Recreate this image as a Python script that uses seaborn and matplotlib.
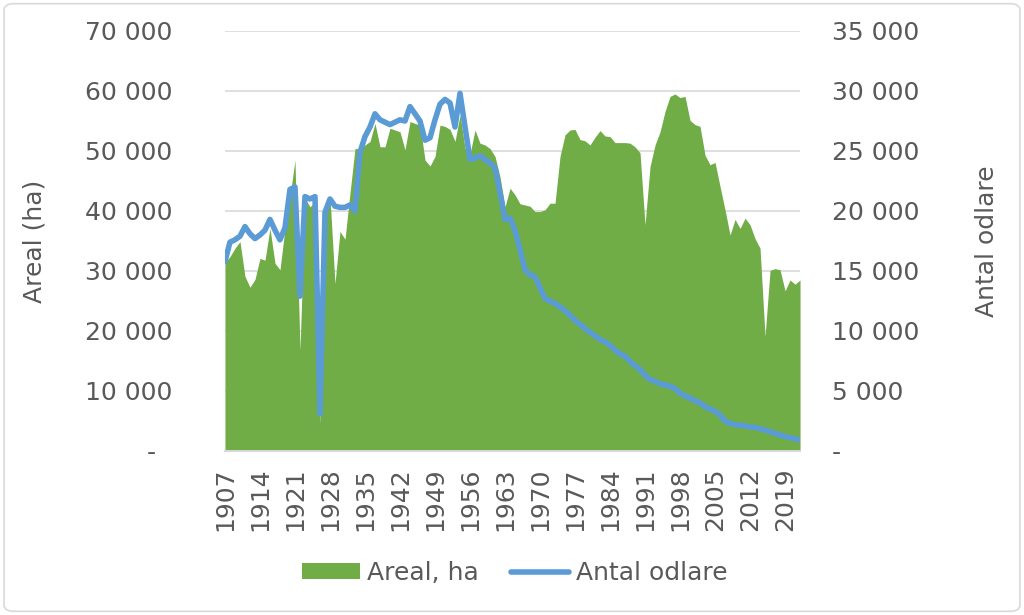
import numpy as np
import pandas as pd
import seaborn as sns
import matplotlib.pyplot as plt
from matplotlib.patches import FancyBboxPatch, Patch
from matplotlib.lines import Line2D
from matplotlib.ticker import FuncFormatter

years = list(range(1907, 2023))

# area in hectares (left axis)
areal_ha = [
    31400, 32400, 33800, 34900, 29100, 27300, 28600, 32100, 31800, 37100,
    31300, 30200, 37100, 42400, 48500, 16800, 42100, 40700, 41500, 4600,
    40000, 42400, 27900, 36600, 35300, 43000, 50400, 50400, 51000, 51600,
    54600, 50700, 50700, 53800, 53500, 53200, 50200, 54900, 54600, 54300,
    48500, 47500, 49100, 54300, 54100, 53600, 51600, 56000, 50500, 49500,
    53500, 51300, 51000, 50400, 49100, 45700, 40700, 43800, 42700, 41200,
    41000, 40800, 39900, 39900, 40200, 41300, 41300, 49100, 52700, 53500,
    53600, 51900, 51700, 51000, 52300, 53400, 52500, 52400, 51400, 51400,
    51400, 51300, 50700, 49700, 37700, 47400, 51000, 53200, 56600, 59100,
    59500, 58900, 59100, 55100, 54400, 54100, 49300, 47700, 48100, 44100,
    40200, 36000, 38600, 37100, 38800, 37700, 35400, 33800, 19100, 30100,
    30400, 30200, 26700, 28500, 27800, 28500,
]

# number of growers (right axis)
antal_odlare = [
    15800, 17400, 17600, 17900, 18700, 18100, 17700, 18000, 18400, 19300,
    18400, 17600, 18600, 21800, 22000, 12900, 21200, 21000, 21200, 3100,
    19900, 21000, 20400, 20300, 20300, 20500, 20000, 24900, 26200, 27000,
    28100, 27600, 27400, 27200, 27400, 27600, 27500, 28700, 28100, 27500,
    25900, 26100, 27600, 28900, 29300, 29000, 27000, 29800, 27000, 24300,
    24400, 24600, 24300, 24000, 23600, 21500, 19300, 19400, 18400, 16800,
    15100, 14700, 14500, 13600, 12700, 12500, 12300, 12000, 11700, 11300,
    10900, 10550, 10200, 9900, 9600, 9300, 9100, 8800, 8400, 8100,
    7900, 7450, 7100, 6800, 6300, 5970, 5800, 5600, 5500, 5400,
    5200, 4800, 4600, 4400, 4200, 4000, 3700, 3500, 3300, 3000,
    2500, 2300, 2200, 2150, 2100, 2000, 1970, 1860, 1750, 1600,
    1470, 1330, 1200, 1100, 1030, 920,
]

label_area = "Areal, ha"
label_line = "Antal odlare"

df = pd.DataFrame({"year": years, "areal": areal_ha, "odlare": antal_odlare})
df["pos"] = np.arange(len(df))

green = "#70AD47"
blue = "#5B9BD5"
grey_txt = "#595959"
grid_col = "#D9D9D9"

sns.set_style("white")
plt.rcParams["font.family"] = ["DejaVu Sans"]
plt.rcParams["font.size"] = 18


def thousands(v, _pos):
    if abs(v) < 1e-9:
        return "-"
    return f"{int(round(v)):,}".replace(",", " ")


def thousands_left(v, _pos):
    if abs(v) < 1e-9:
        return "-  "
    return f"{int(round(v)):,}".replace(",", " ")


fig = plt.figure(figsize=(10.24, 6.15), dpi=100)
ax = fig.add_axes([0.2197, 0.2667, 0.5616, 0.6829])
ax2 = ax.twinx()

ax.fill_between(df["pos"], 0, df["areal"], color=green, linewidth=0, zorder=2)
sns.lineplot(data=df, x="pos", y="odlare", ax=ax2, color=blue, linewidth=4,
             solid_joinstyle="round", solid_capstyle="round")

ax.set_xlim(0, len(df) - 1)
ax.set_ylim(0, 70000)
ax2.set_ylim(0, 35000)
ax.set_yticks(np.arange(0, 70001, 10000))
ax2.set_yticks(np.arange(0, 35001, 5000))
ax.yaxis.set_major_formatter(FuncFormatter(thousands_left))
ax2.yaxis.set_major_formatter(FuncFormatter(thousands))

tick_pos = df["pos"][::7]
ax.set_xticks(tick_pos)
ax.set_xticklabels(df["year"][::7], rotation=90)
ax2.set_xlabel("")

ax.grid(axis="y", color=grid_col, linewidth=1.2, zorder=0)
ax.set_axisbelow(True)
for a in (ax, ax2):
    for s in ("top", "left", "right"):
        a.spines[s].set_visible(False)
    a.spines["bottom"].set_color(grid_col)
    a.spines["bottom"].set_linewidth(1.2)
    a.tick_params(length=0, colors=grey_txt, labelsize=18)

ax.tick_params(axis="y", pad=38)
ax2.tick_params(axis="y", pad=23)
ax.tick_params(axis="x", pad=12)

ax.set_xlabel("")
ax.set_ylabel("Areal (ha)", color=grey_txt, fontsize=18)
ax2.set_ylabel("Antal odlare", color=grey_txt, fontsize=18)
ax.yaxis.set_label_coords(-0.31, 0.5)
ax2.yaxis.set_label_coords(1.305, 0.5)

handles = [
    Patch(facecolor=green, edgecolor="none", label=label_area),
    Line2D([0], [0], color=blue, linewidth=4, label=label_line),
]
leg = fig.legend(handles=handles, loc="center", bbox_to_anchor=(0.503, 0.068),
                 ncol=2, frameon=False, fontsize=18, handlelength=2.3,
                 handleheight=0.6, columnspacing=1.3, handletextpad=0.3)
for t in leg.get_texts():
    t.set_color(grey_txt)

fig.patches.append(FancyBboxPatch((0.004, 0.006), 0.992, 0.988,
                                  boxstyle="round,pad=0,rounding_size=0.01",
                                  transform=fig.transFigure, facecolor="none",
                                  edgecolor=grid_col, linewidth=1.2))

fig.savefig("out.png", dpi=100)
